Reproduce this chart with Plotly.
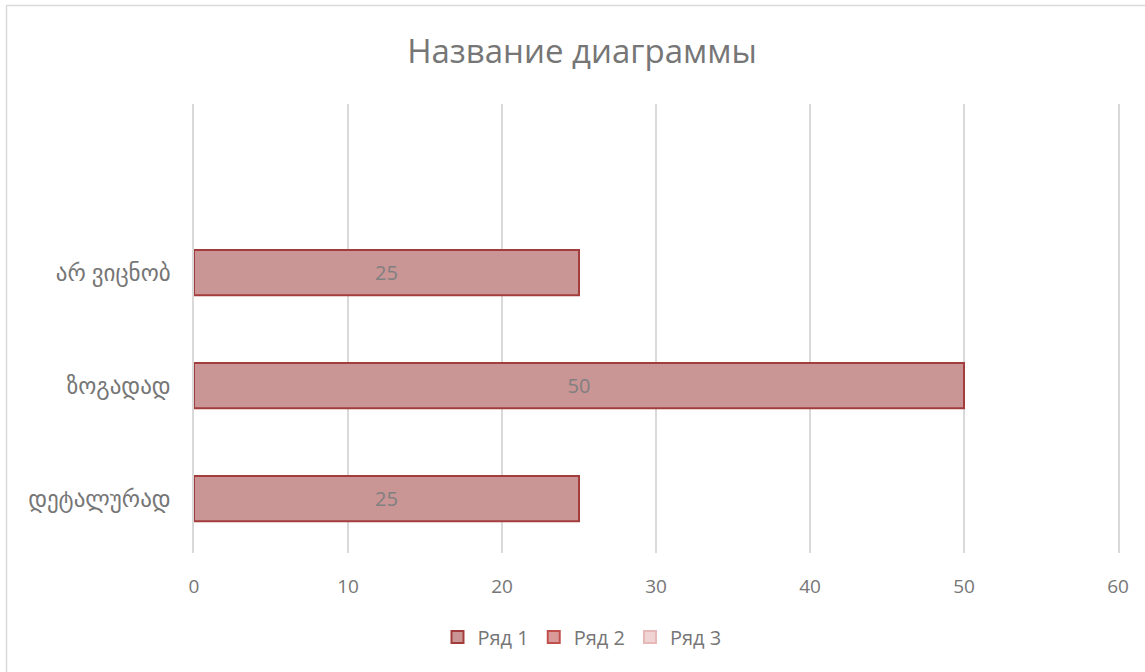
import plotly.graph_objects as go

categories = ["დეტალურად", "ზოგადად", "არ ვიცნობ"]
series1 = [25, 50, 25]
series2 = [None, None, None]
series3 = [None, None, None]
x_ticks = [0, 10, 20, 30, 40, 50, 60]

FONT = "Open Sans, DejaVu Sans, sans-serif"
GREY = "#767676"

fig = go.Figure()
fig.add_trace(go.Bar(
    name="Ряд 1", y=categories, x=series1, orientation="h", width=0.4,
    marker=dict(color="#c99595", line=dict(color="#a33d3d", width=2)),
    text=series1, textposition="inside", insidetextanchor="middle",
    textfont=dict(family=FONT, size=20, color="#808080"),
))
fig.add_trace(go.Bar(
    name="Ряд 2", y=categories, x=series2, orientation="h", width=0.4,
    marker=dict(color="#d99a9a", line=dict(color="#c0504d", width=2)),
))
fig.add_trace(go.Bar(
    name="Ряд 3", y=categories, x=series3, orientation="h", width=0.4,
    marker=dict(color="#f0d4d4", line=dict(color="#e6b8b7", width=2)),
))

L, R, T, B = 194, 27, 104, 119
W, H = 1145, 672
pw, ph = W - L - R, H - T - B

fig.update_layout(
    width=W, height=H,
    margin=dict(l=L, r=R, t=T, b=B),
    paper_bgcolor="white", plot_bgcolor="white",
    barmode="overlay",
    showlegend=True,
    title=dict(text="Название диаграммы", x=(582 - L) / pw, xref="paper", xanchor="center",
               y=1 - 51 / H, yanchor="middle",
               font=dict(family=FONT, size=33, color=GREY)),
    legend=dict(orientation="h", x=(582 - L) / pw, xanchor="center", y=-(637 - (T + ph)) / ph, yanchor="middle",
                font=dict(family=FONT, size=20, color=GREY), traceorder="normal",
                itemwidth=30),
    xaxis=dict(range=[0, 60], tickvals=x_ticks, showgrid=True, gridcolor="#d9d9d9", gridwidth=1.5,
               zeroline=False, showline=False, ticks="",
               tickfont=dict(family=FONT, size=19, color=GREY), ticklabelstandoff=20),
    yaxis=dict(type="category", categoryorder="array", categoryarray=categories,
               range=[-0.48, 3.49], showgrid=False, zeroline=False,
               showline=True, mirror=True, linecolor="#d9d9d9", linewidth=1.5, ticks="",
               tickfont=dict(family=FONT, size=23, color=GREY), ticklabelstandoff=17),
    shapes=[dict(type="rect", xref="paper", yref="paper",
                 x0=(6.5 - L) / pw, x1=(W + 20 - L) / pw,
                 y0=-(H + 20 - T - ph) / ph, y1=1 + (T - 5.5) / ph,
                 line=dict(color="#d9d9d9", width=1.5), fillcolor="rgba(0,0,0,0)", layer="below")],
)
fig.write_html("out.html", config={"displayModeBar": False},
               post_script="document.body.style.margin='0';document.body.style.overflow='hidden';")
